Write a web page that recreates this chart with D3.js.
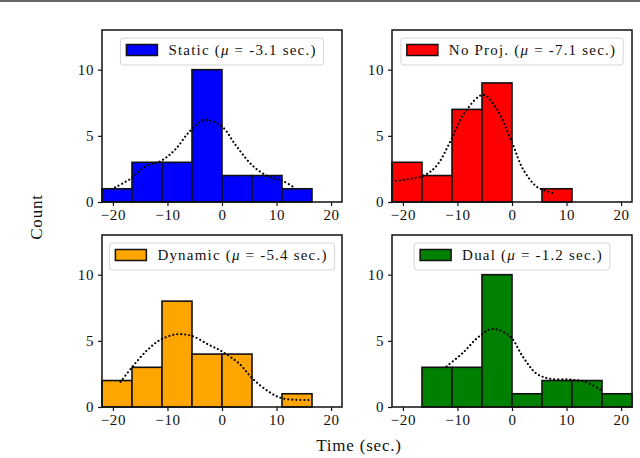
<!DOCTYPE html>
<html>
<head>
<meta charset="utf-8">
<script src="https://cdn.jsdelivr.net/npm/d3@7"></script>
<style>
  body { margin: 0; background: #fff; }
  text { font-family: "Liberation Serif", "DejaVu Serif", serif; fill: #111; }
</style>
</head>
<body>
<div id="chart"></div>
<script>
// shared histogram bins (sec.)
var binEdges = [-22, -16.5, -11, -5.5, 0, 5.5, 11, 16.5, 22];
var xTicks = [-20, -10, 0, 10, 20];
var yTicks = [0, 5, 10];

// counts per bin
var staticCounts  = [1, 3, 3, 10, 2, 2, 1, 0];
var noProjCounts  = [3, 2, 7, 9, 0, 1, 0, 0];
var dynamicCounts = [2, 3, 8, 4, 4, 0, 1, 0];
var dualCounts    = [0, 3, 3, 10, 1, 2, 2, 1];

// dotted density curves as [time, count]
var staticCurve = [[-19.6, 1.1], [-16.8, 1.75], [-14.0, 2.7], [-11.2, 3.1], [-8.5, 4.0], [-6.0, 5.3],
    [-3.2, 6.2], [0.0, 5.7], [2.5, 4.3], [5.6, 2.75], [8.6, 1.9], [11.1, 1.6], [13.2, 1.1]];
var noProjCurve = [[-21.3, 1.6], [-16.2, 2.0], [-13.8, 2.75], [-11.4, 4.5], [-8.6, 6.8], [-5.3, 8.1],
    [-2.9, 7.1], [0.0, 4.5], [2.0, 2.5], [4.4, 1.2], [6.2, 0.84], [8.0, 0.6]];
var dynamicCurve = [[-18.6, 1.9], [-16.5, 3.0], [-13.7, 4.3], [-11.2, 5.1], [-8.2, 5.5], [-5.4, 5.35],
    [-2.4, 4.7], [0.0, 4.2], [3.1, 3.3], [5.6, 2.15], [8.6, 1.15], [11.1, 0.65], [16.0, 0.53]];
var dualCurve = [[-12.0, 3.07], [-9.0, 4.1], [-6.0, 5.35], [-3.6, 5.9], [-0.4, 5.35], [2.0, 3.8],
    [4.4, 2.55], [6.8, 2.15], [10.4, 2.08], [13.4, 1.9], [16.4, 1.27]];

var names  = ["Static", "No Proj.", "Dynamic", "Dual"];
var means  = ["-3.1", "-7.1", "-5.4", "-1.2"];
var colors = ["#0000ff", "#ff0000", "#ffa500", "#008000"];

var panels = [
    {counts: staticCounts,  curve: staticCurve,  x: 102, y: 30},
    {counts: noProjCounts,  curve: noProjCurve,  x: 392, y: 30},
    {counts: dynamicCounts, curve: dynamicCurve, x: 102, y: 235},
    {counts: dualCounts,    curve: dualCurve,    x: 392, y: 235}
];

var W = 640, H = 458;
var pw = 240, ph = 172;

var svg = d3.select("#chart").append("svg").attr("width", W).attr("height", H);

// page rule at the very top
svg.append("line").attr("x1", 0).attr("x2", W).attr("y1", 1).attr("y2", 1)
    .attr("stroke", "#333").attr("stroke-width", 1.5);

var x = d3.scaleLinear().domain([-22, 22]).range([0, pw]);
var y = d3.scaleLinear().domain([0, 13]).range([ph, 0]);

panels.forEach(function(p, i) {
    var g = svg.append("g").attr("transform", "translate(" + p.x + "," + p.y + ")");

    var bins = p.counts.map(function(c, j) { return {x0: binEdges[j], x1: binEdges[j + 1], n: c}; })
        .filter(function(b) { return b.n > 0; });

    g.selectAll("rect.bar").data(bins).enter().append("rect")
        .attr("class", "bar")
        .attr("x", function(d) { return x(d.x0); })
        .attr("width", function(d) { return x(d.x1) - x(d.x0); })
        .attr("y", function(d) { return y(d.n); })
        .attr("height", function(d) { return y(0) - y(d.n); })
        .attr("fill", colors[i])
        .attr("stroke", "#111").attr("stroke-width", 1.6);

    var line = d3.line().x(function(d) { return x(d[0]); }).y(function(d) { return y(d[1]); })
        .curve(d3.curveCatmullRom);
    g.append("path").datum(p.curve).attr("d", line)
        .attr("fill", "none").attr("stroke", "#000").attr("stroke-width", 2.1)
        .attr("stroke-dasharray", "0.1,3.9").attr("stroke-linecap", "round");

    // axes
    var xa = g.append("g").attr("transform", "translate(0," + ph + ")")
        .call(d3.axisBottom(x).tickValues(xTicks).tickSize(4).tickPadding(3)
            .tickFormat(function(d) { return d < 0 ? "\u2212" + Math.abs(d) : d; }));
    var ya = g.append("g")
        .call(d3.axisLeft(y).tickValues(yTicks).tickSize(4).tickPadding(4));
    [xa, ya].forEach(function(a) {
        a.select(".domain").remove();
        a.selectAll("line").attr("stroke", "#111").attr("stroke-width", 1.2);
        a.selectAll("text").attr("font-size", 15).attr("letter-spacing", 0.6)
            .style("font-family", "'Liberation Serif', serif").attr("fill", "#111");
    });

    g.append("rect").attr("width", pw).attr("height", ph)
        .attr("fill", "none").attr("stroke", "#111").attr("stroke-width", 1.5);

    // legend, upper center
    var lg = g.append("g");
    var txt = lg.append("text").attr("font-size", 15).attr("letter-spacing", 1.2).attr("y", 25);
    txt.append("tspan").text(names[i] + " (");
    txt.append("tspan").attr("font-style", "italic").text("\u03bc");
    txt.append("tspan").text(" = " + means[i] + " sec.)");
    var tw = txt.node().getComputedTextLength();
    var lw = tw + 55;
    var lx = (pw - lw) / 2;
    lg.insert("rect", "text").attr("x", lx).attr("y", 8).attr("width", lw).attr("height", 27)
        .attr("rx", 3).attr("fill", "#fff").attr("fill-opacity", 0.8)
        .attr("stroke", "#d5d5d5").attr("stroke-width", 1);
    lg.append("rect").attr("x", lx + 6).attr("y", 14.5).attr("width", 31).attr("height", 11)
        .attr("fill", colors[i]).attr("stroke", "#111").attr("stroke-width", 1.5);
    txt.attr("x", lx + 48);
});

svg.append("text").attr("x", 359).attr("y", 451).attr("text-anchor", "middle")
    .attr("font-size", 17).attr("letter-spacing", 0.8).text("Time (sec.)");
svg.append("text").attr("transform", "translate(42,217) rotate(-90)").attr("text-anchor", "middle")
    .attr("font-size", 17).attr("letter-spacing", 0.8).text("Count");
</script>
</body>
</html>
